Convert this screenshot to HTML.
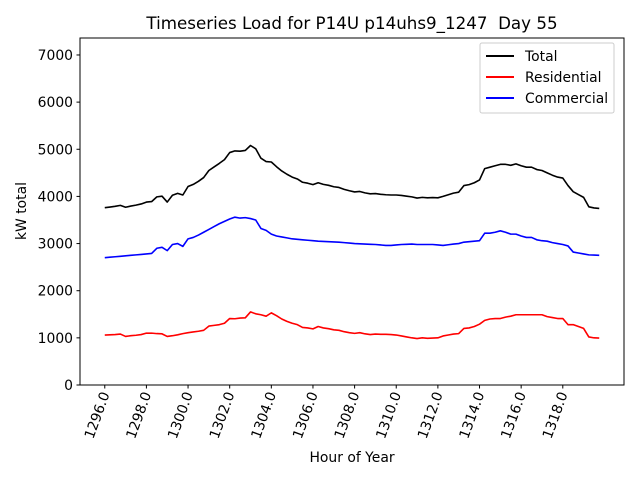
<!DOCTYPE html>
<html><head><meta charset="utf-8"><style>
body{margin:0;background:#fff}
svg text{font-family:"DejaVu Sans","Liberation Sans",sans-serif;fill:#000}
</style></head><body>
<svg id="chart" width="640" height="480" viewBox="0 0 640 480" xmlns="http://www.w3.org/2000/svg">
<rect width="640" height="480" fill="#fff"/>
<text x="352" y="29" font-size="16.7" text-anchor="middle">Timeseries Load for P14U p14uhs9_1247&#160; Day 55</text>
<g id="plot"></g>
<rect x="80" y="38" width="544" height="347" fill="none" stroke="#000" stroke-width="1"/>
<text x="352" y="462" font-size="13.9" text-anchor="middle">Hour of Year</text>
<text transform="translate(26,211) rotate(-90)" font-size="13.9" text-anchor="middle">kW total</text>
<g>
<rect x="480" y="43" width="134" height="70" rx="2" fill="#fff" fill-opacity="0.8" stroke="#ccc"/>
<line x1="486" y1="56" x2="514" y2="56" stroke="#000" stroke-width="2"/>
<text x="525" y="61" font-size="13.9">Total</text>
<line x1="486" y1="77" x2="514" y2="77" stroke="#f00" stroke-width="2"/>
<text x="525" y="82" font-size="13.9">Residential</text>
<line x1="486" y1="98" x2="514" y2="98" stroke="#00f" stroke-width="2"/>
<text x="525" y="103" font-size="13.9">Commercial</text>
</g>
</svg>
<script>
const startHour = 1296;
const stepHours = 0.25;
const totalValues = [3760,3775,3790,3810,3770,3795,3815,3840,3880,3890,3990,4005,3880,4025,4065,4030,4210,4255,4320,4400,4550,4625,4700,4780,4930,4965,4960,4975,5080,5010,4810,4740,4730,4630,4540,4470,4410,4370,4300,4280,4250,4290,4255,4235,4205,4190,4150,4120,4095,4105,4075,4055,4060,4045,4035,4030,4030,4020,4005,3990,3965,3980,3970,3975,3970,4000,4035,4070,4090,4230,4250,4290,4350,4590,4620,4650,4680,4680,4660,4690,4650,4620,4620,4570,4550,4500,4450,4410,4390,4230,4100,4040,3980,3780,3755,3745];
const residentialValues = [1060,1065,1070,1080,1030,1045,1055,1070,1100,1100,1090,1085,1030,1045,1065,1090,1110,1125,1140,1160,1250,1265,1280,1310,1410,1405,1420,1425,1550,1510,1490,1460,1530,1470,1400,1350,1310,1280,1220,1210,1190,1240,1210,1195,1170,1160,1130,1110,1095,1110,1085,1070,1080,1075,1075,1070,1060,1040,1020,1000,985,1000,990,995,1000,1040,1060,1080,1090,1200,1210,1240,1290,1370,1400,1410,1410,1440,1460,1490,1490,1490,1490,1490,1490,1450,1430,1410,1410,1280,1280,1240,1200,1020,1000,995];
const commercialValues = [2700,2710,2720,2730,2740,2750,2760,2770,2780,2790,2900,2920,2850,2980,3000,2940,3100,3130,3180,3240,3300,3360,3420,3470,3520,3560,3540,3550,3530,3500,3320,3280,3200,3160,3140,3120,3100,3090,3080,3070,3060,3050,3045,3040,3035,3030,3020,3010,3000,2995,2990,2985,2980,2970,2960,2960,2970,2980,2985,2990,2980,2980,2980,2980,2970,2960,2975,2990,3000,3030,3040,3050,3060,3220,3220,3240,3270,3240,3200,3200,3160,3130,3130,3080,3060,3050,3020,3000,2980,2950,2820,2800,2780,2760,2755,2750];
const yTicks = [0,1000,2000,3000,4000,5000,6000,7000];
const xTicks = [1296,1298,1300,1302,1304,1306,1308,1310,1312,1314,1316,1318];

const NS = "http://www.w3.org/2000/svg";
const X0 = 80, X1 = 624, Y0 = 385, Y1 = 38;
const xMin = 1294.81, xMax = 1320.94, yMin = 0, yMax = 7360;
function xs(h){ return X0 + (h - xMin) / (xMax - xMin) * (X1 - X0); }
function ys(v){ return Y0 - (v - yMin) / (yMax - yMin) * (Y0 - Y1); }
const plot = document.getElementById('plot');
function mk(tag, attrs){ const e = document.createElementNS(NS, tag); for (const k in attrs) e.setAttribute(k, attrs[k]); plot.appendChild(e); return e; }

yTicks.forEach(v => {
  const y = ys(v);
  const t = mk('line', {x1: X0 - 3.5, x2: X0, y1: y, y2: y, stroke: '#000'});
  
  
  const l = mk('text', {x: X0 - 7, y: y + 5, 'font-size': 13.9, 'text-anchor': 'end'});
  l.textContent = v;
  
  
});
xTicks.forEach(h => {
  const x = xs(h);
  const t = mk('line', {x1: x, x2: x, y1: Y0, y2: Y0 + 3.5, stroke: '#000'});
  
  
  const l = mk('text', {transform: 'translate(' + (x + 5) + ',' + (Y0 + 9) + ') rotate(-70)', 'font-size': 13.9, 'text-anchor': 'end'});
  l.textContent = h.toFixed(1);
  
  
});
function series(vals, color, name){
  const d = vals.map((v, i) => (i ? 'L' : 'M') + xs(startHour + i * stepHours).toFixed(2) + ',' + ys(v).toFixed(2)).join('');
  const p = mk('path', {d: d, fill: 'none', stroke: color, 'stroke-width': 1.6, 'stroke-linejoin': 'round'});
  
  
}
series(totalValues, '#000', 'total-line');
series(residentialValues, '#f00', 'residential-line');
series(commercialValues, '#00f', 'commercial-line');
</script>
</body></html>
